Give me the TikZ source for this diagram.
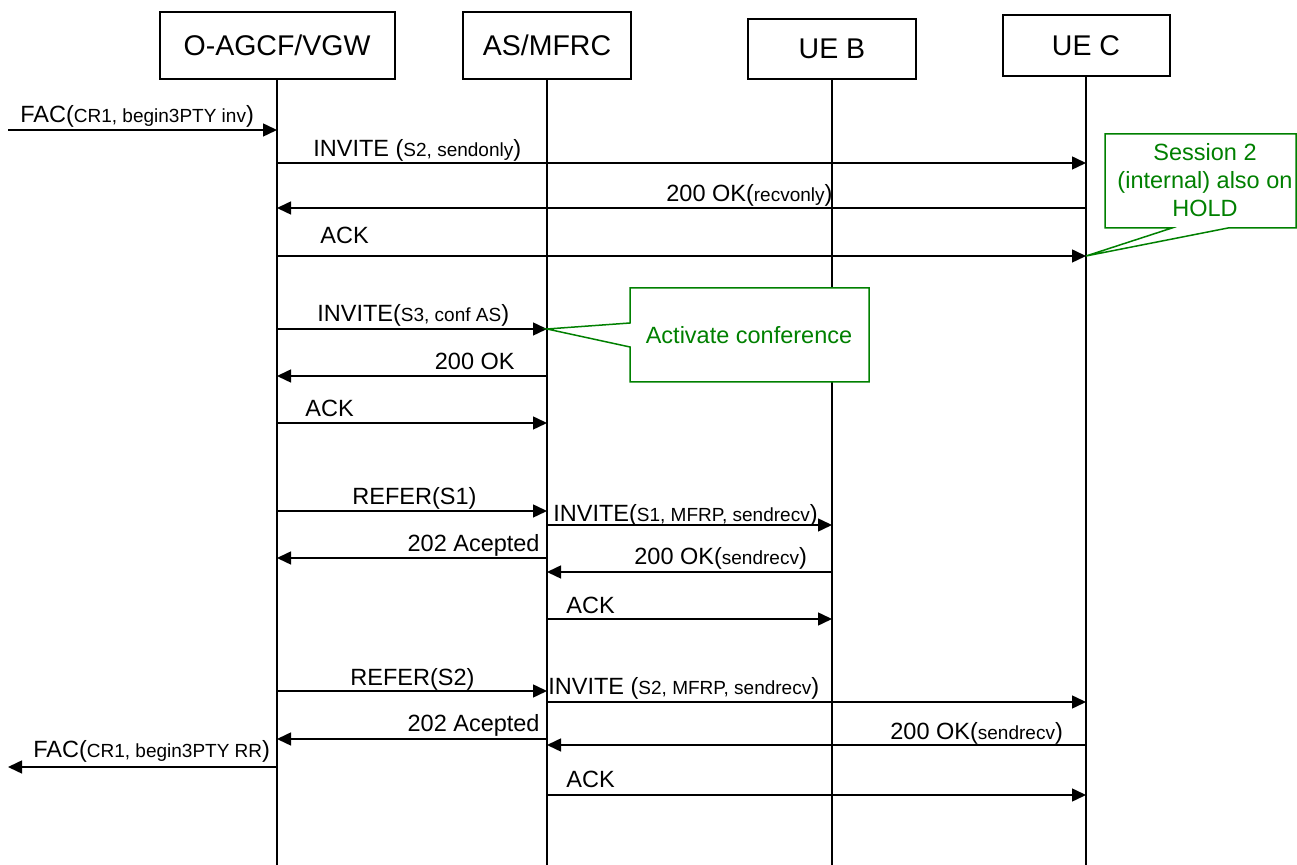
\documentclass[tikz,border=0pt]{standalone}
\usepackage{fontspec}
\setmainfont{Liberation Sans}
\usetikzlibrary{arrows.meta}
\definecolor{noteGreen}{RGB}{0, 128, 0}
\newcommand{\sm}[1]{{\fontsize{9.5}{11}\selectfont #1}}

\begin{document}
\begin{tikzpicture}[x=0.5pt, y=-0.5pt,
    entity/.style={draw, line width=1pt, fill=white, inner sep=0pt,
        font=\fontsize{14.25}{17}\selectfont},
    life/.style={line width=0.75pt},
    msg/.style={line width=0.75pt, -{Triangle[length=7pt, width=6.5pt]}},
    lbl/.style={inner sep=0pt, font=\fontsize{11.75}{14}\selectfont},
    note/.style={draw=noteGreen, line width=0.75pt, fill=white},
    notetext/.style={inner sep=0pt, text=noteGreen, align=center,
        font=\fontsize{11.75}{14}\selectfont}]
    \useasboundingbox (0,0) rectangle (1297,865);

    % Teilnehmer
    \node[entity, minimum width=117.5pt, minimum height=33.5pt] (ag) at (277,45.5) {O-AGCF/VGW};
    \node[entity, minimum width=84pt, minimum height=33.5pt] (as) at (547,45.5) {AS/MFRC};
    \node[entity, minimum width=84pt, minimum height=30pt] (ub) at (832,49) {UE B};
    \node[entity, minimum width=83.5pt, minimum height=30.5pt] (uc) at (1086,45.5) {UE C};

    % Lebenslinien
    \coordinate (agEnd) at (277,865);
    \coordinate (asEnd) at (547,865);
    \coordinate (ubEnd) at (832,865);
    \coordinate (ucEnd) at (1086,865);
    \draw[life] (ag.south) -- (agEnd);
    \draw[life] (as.south) -- (asEnd);
    \draw[life] (ub.south) -- (ubEnd);
    \draw[life] (uc.south) -- (ucEnd);

    % Sitzung 2 halten
    \coordinate (facIn) at (8,130);
    \draw[msg] (facIn) -- (ag |- 0,130);
    \node[lbl, anchor=base west] (l1) at (20,123) {FAC(\sm{CR1, begin3PTY inv})};
    \draw[msg] (ag |- 0,163) -- (uc |- 0,163);
    \node[lbl, anchor=base west] (l2) at (313,157) {INVITE (\sm{S2, sendonly})};
    \draw[msg] (uc |- 0,208) -- (ag |- 0,208);
    \node[lbl, anchor=base west] (l3) at (666,202) {200 OK(\sm{recvonly})};
    \draw[msg] (ag |- 0,256) -- (uc |- 0,256);
    \node[lbl, anchor=base west] (l4) at (320,244) {ACK};

    % Konferenz anlegen
    \draw[msg] (ag |- 0,329) -- (as |- 0,329);
    \node[lbl, anchor=base west] (l5) at (317,322) {INVITE(\sm{S3, conf AS})};
    \draw[msg] (as |- 0,376) -- (ag |- 0,376);
    \node[lbl, anchor=base east] (l6) at (515,370) {200 OK};
    \draw[msg] (ag |- 0,423) -- (as |- 0,423);
    \node[lbl, anchor=base west] (l7) at (305,417) {ACK};

    % Sitzung 1 uebertragen
    \draw[msg] (ag |- 0,511) -- (as |- 0,511);
    \node[lbl, anchor=base west] (l8) at (352,505) {REFER(S1)};
    \draw[msg] (as |- 0,525) -- (ub |- 0,525);
    \node[lbl, anchor=base west] (l9) at (553,522) {INVITE(\sm{S1, MFRP, sendrecv})};
    \draw[msg] (as |- 0,558) -- (ag |- 0,558);
    \node[lbl, anchor=base east] (l10) at (540,552) {202 Acepted};
    \draw[msg] (ub |- 0,572) -- (as |- 0,572);
    \node[lbl, anchor=base west] (l11) at (634,565) {200 OK(\sm{sendrecv})};
    \draw[msg] (as |- 0,619) -- (ub |- 0,619);
    \node[lbl, anchor=base west] (l12) at (566,614) {ACK};

    % Sitzung 2 uebertragen
    \draw[msg] (ag |- 0,691) -- (as |- 0,691);
    \node[lbl, anchor=base west] (l13) at (350,686) {REFER(S2)};
    \draw[msg] (as |- 0,702) -- (uc |- 0,702);
    \node[lbl, anchor=base west] (l14) at (548,695) {INVITE (\sm{S2, MFRP, sendrecv})};
    \draw[msg] (as |- 0,739) -- (ag |- 0,739);
    \node[lbl, anchor=base east] (l15) at (540,732) {202 Acepted};
    \draw[msg] (uc |- 0,745) -- (as |- 0,745);
    \node[lbl, anchor=base west] (l16) at (890,740) {200 OK(\sm{sendrecv})};
    \coordinate (facOut) at (8,767);
    \draw[msg] (ag |- 0,767) -- (facOut);
    \node[lbl, anchor=base west] (l17) at (33,758) {FAC(\sm{CR1, begin3PTY RR})};
    \draw[msg] (as |- 0,795) -- (uc |- 0,795);
    \node[lbl, anchor=base west] (l18) at (566,788) {ACK};

    % Hinweise
    \draw[note] (1105,134) -- (1296,134) -- (1296,228) -- (1228,228) -- (uc |- 0,256)
        -- (1172,228) -- (1105,228) -- cycle;
    \node[notetext] (n1) at (1205,180) {Session 2\\(internal) also on\\HOLD};
    \draw[note] (630,288) -- (869,288) -- (869,382) -- (630,382) -- (630,347)
        -- (as |- 0,329) -- (630,323) -- cycle;
    \node[notetext] (n2) at (749,335) {Activate conference};
\end{tikzpicture}
\end{document}
